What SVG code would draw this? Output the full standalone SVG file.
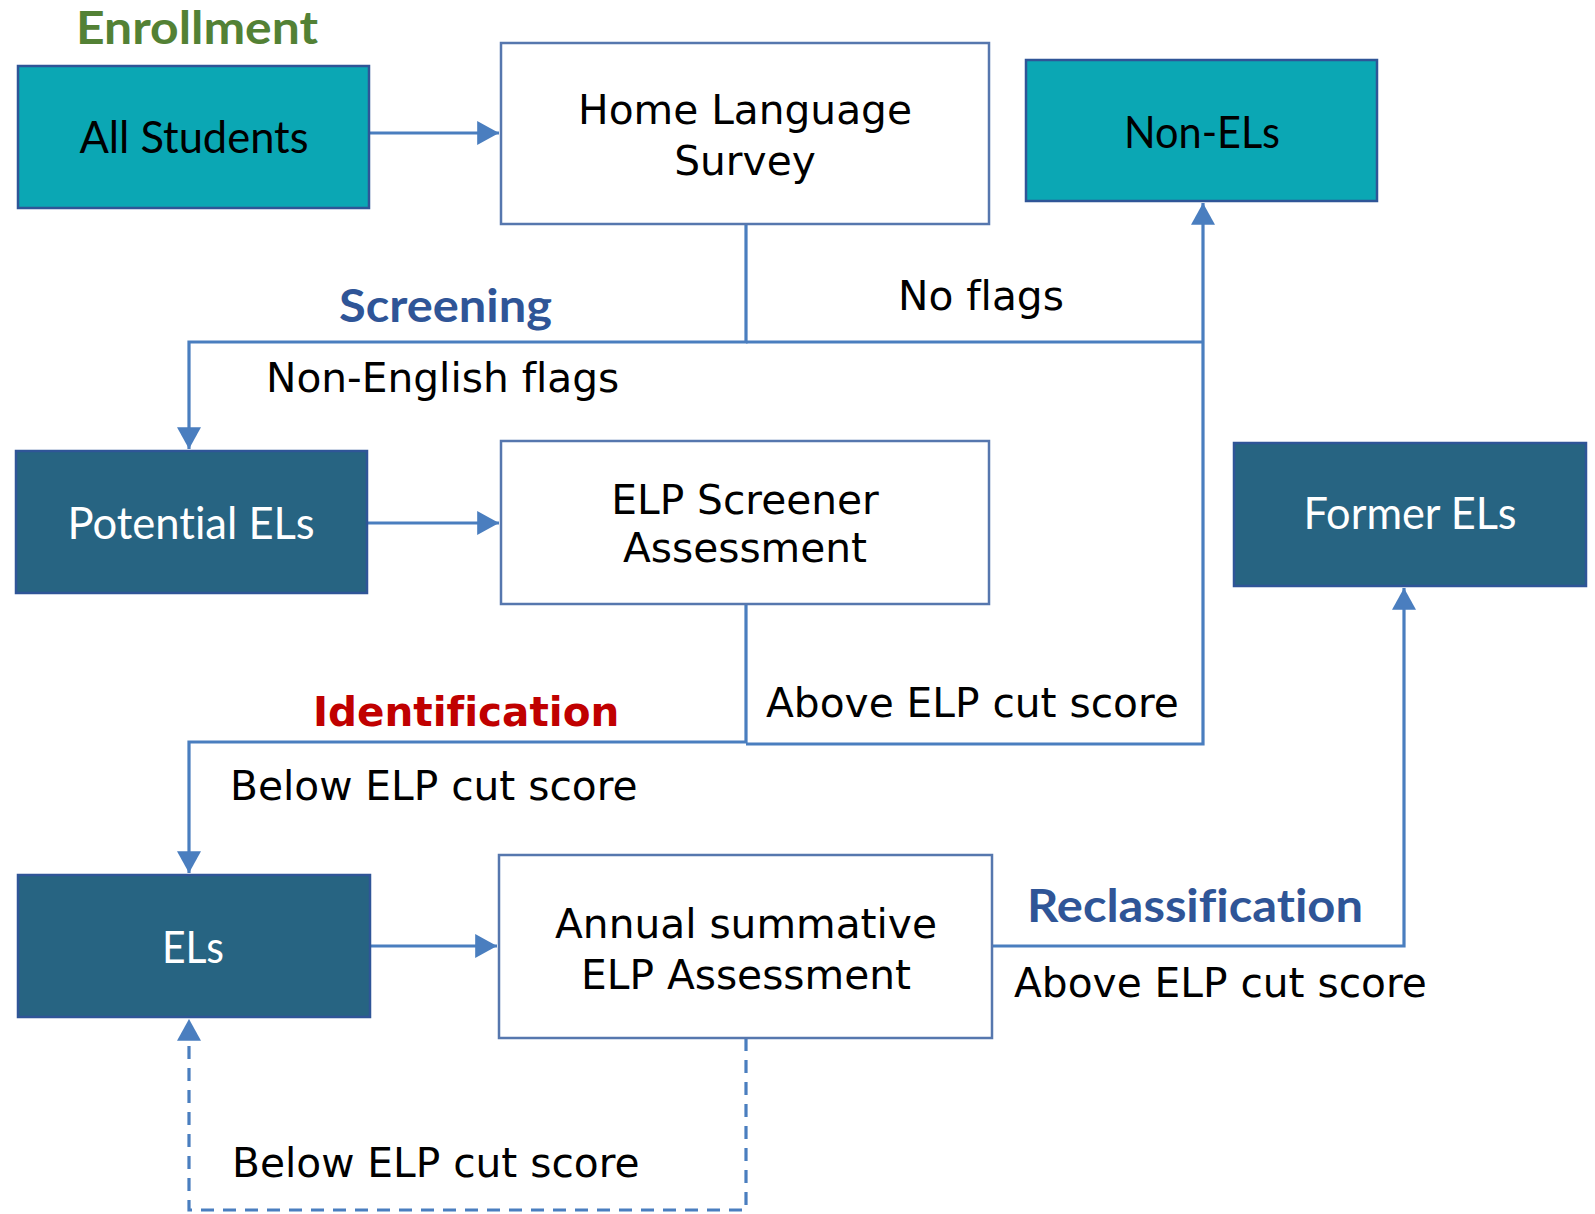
<svg xmlns="http://www.w3.org/2000/svg" width="1595" height="1214" viewBox="0 0 1595 1214">
<defs>
<marker id="arr" markerUnits="userSpaceOnUse" markerWidth="24" markerHeight="24" viewBox="0 0 22 22" refX="20" refY="11" orient="auto">
<path d="M0,0 L20,11 L0,22 Z" fill="#4A7EBF"/>
</marker>
<style>
text{font-variant-ligatures:none}
.teal{fill:#0BA7B4;stroke:#2F5597;stroke-width:2.5}
.dark{fill:#276482;stroke:#2F5597;stroke-width:2.5}
.white{fill:#ffffff;stroke:#5677AE;stroke-width:2.5}
.cal{font-family:Lato,"Open Sans","Liberation Sans",sans-serif;font-size:45px;text-anchor:middle}
.calb{font-family:Lato,"Open Sans","Liberation Sans",sans-serif;font-size:46px;font-weight:bold}
.ver{font-family:"DejaVu Sans",Verdana,sans-serif;font-size:40.7px;fill:#000}
.verm{font-family:"DejaVu Sans",Verdana,sans-serif;font-size:40.7px;fill:#000;text-anchor:middle}
.conn{fill:none;stroke:#4A7EBF;stroke-width:3.2}
.dash{stroke-dasharray:13 9}
</style>
</defs>

<g id="connectors">
<path class="conn" d="M369,133 H499" marker-end="url(#arr)"/>
<path class="conn" d="M746,224 V342 H189 V449" marker-end="url(#arr)"/>
<path class="conn" d="M746,342 H1203"/>
<path class="conn" d="M746,744 H1203 V203" marker-end="url(#arr)"/>
<path class="conn" d="M367,523 H499" marker-end="url(#arr)"/>
<path class="conn" d="M746,604 V742 H189 V873" marker-end="url(#arr)"/>
<path class="conn" d="M370,946 H497" marker-end="url(#arr)"/>
<path class="conn" d="M992,946 H1404 V588" marker-end="url(#arr)"/>
<path class="conn dash" d="M746,1038 V1210 H189 V1019" marker-end="url(#arr)"/>
</g>

<g id="labels">
<text class="calb" x="76" y="44" fill="#538135" textLength="242" lengthAdjust="spacingAndGlyphs">Enrollment</text>
<text class="calb" x="339" y="322" fill="#2F5597" textLength="213" lengthAdjust="spacingAndGlyphs">Screening</text>
<text class="ver" x="898" y="310">No flags</text>
<text class="ver" x="266" y="392">Non-English flags</text>
<text class="ver" x="766" y="717">Above ELP cut score</text>
<text x="313" y="726" font-family="'DejaVu Sans',Verdana,sans-serif" font-size="40.5px" font-weight="bold" fill="#C00000">Identification</text>
<text class="ver" x="230" y="800">Below ELP cut score</text>
<text class="calb" x="1027" y="922" fill="#2F5597" textLength="336" lengthAdjust="spacingAndGlyphs">Reclassification</text>
<text class="ver" x="1014" y="997">Above ELP cut score</text>
<text class="ver" x="232" y="1177">Below ELP cut score</text>
</g>

<g id="node-all-students">
<rect class="teal" x="18" y="66" width="351" height="142"/>
<text class="cal" x="194" y="153" fill="#000" textLength="229" lengthAdjust="spacingAndGlyphs">All Students</text>
</g>

<g id="node-home-language-survey">
<rect class="white" x="501" y="43" width="488" height="181"/>
<text class="verm" x="745" y="124">Home Language</text>
<text class="verm" x="745" y="175">Survey</text>
</g>

<g id="node-non-els">
<rect class="teal" x="1026" y="60" width="351" height="141"/>
<text class="cal" x="1202" y="148" fill="#000" textLength="156" lengthAdjust="spacingAndGlyphs">Non-ELs</text>
</g>

<g id="node-potential-els">
<rect class="dark" x="16" y="451" width="351" height="142"/>
<text class="cal" x="191" y="539" fill="#fff" textLength="247" lengthAdjust="spacingAndGlyphs">Potential ELs</text>
</g>

<g id="node-elp-screener">
<rect class="white" x="501" y="441" width="488" height="163"/>
<text class="verm" x="745" y="514">ELP Screener</text>
<text class="verm" x="745" y="562">Assessment</text>
</g>

<g id="node-former-els">
<rect class="dark" x="1234" y="443" width="352" height="143"/>
<text class="cal" x="1410" y="529" fill="#fff" textLength="213" lengthAdjust="spacingAndGlyphs">Former ELs</text>
</g>

<g id="node-els">
<rect class="dark" x="18" y="875" width="352" height="142"/>
<text class="cal" x="193" y="963" fill="#fff" textLength="62" lengthAdjust="spacingAndGlyphs">ELs</text>
</g>

<g id="node-annual">
<rect class="white" x="499" y="855" width="493" height="183"/>
<text class="verm" x="746" y="938">Annual summative</text>
<text class="verm" x="746" y="989">ELP Assessment</text>
</g>
</svg>
